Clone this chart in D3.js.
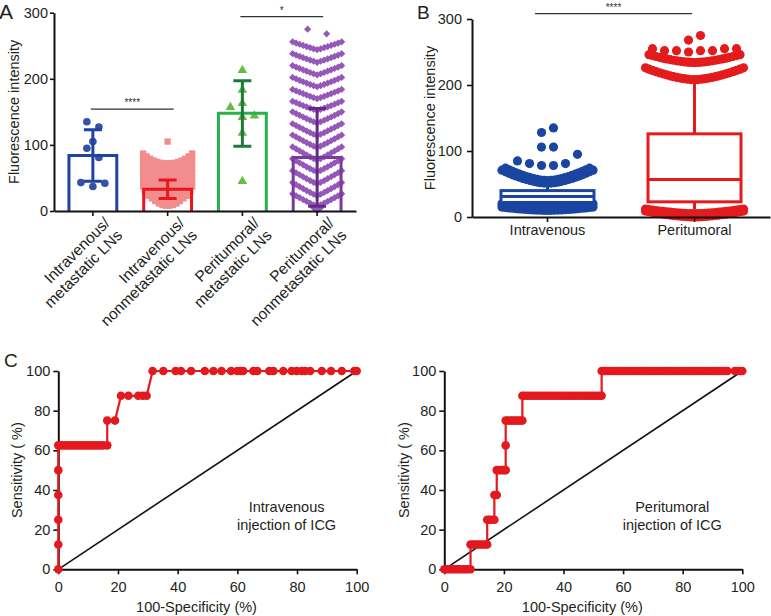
<!DOCTYPE html>
<html><head><meta charset="utf-8">
<script src="https://cdn.jsdelivr.net/npm/d3@7"></script>
<style>
body{margin:0;background:#fff}
svg{display:block}
text{font-family:"Liberation Sans",Arial,Helvetica,sans-serif}
</style>
</head><body>
<svg id="c" width="771" height="616"></svg>
<script>
// ---------------- DATA ----------------
// Panel A
const catsA = ["Intravenous/|metastatic LNs", "Intravenous/|nonmetastatic LNs", "Peritumoral/|metastatic LNs", "Peritumoral/|nonmetastatic LNs"];
const yTicksA = [0, 100, 200, 300];
const meansA = [84, 33, 148, 81];
const errLowA = [45, 19, 98, 7];
const errHighA = [123, 47, 197, 155];
const ivMetValues = [135, 127, 105, 95, 81, 43, 37, 42];
const periMetValues = [213, 183, 163, 157, 144, 142, 118, 45];
// dense swarms read as rows: [value at row centre, value at row edges, number of points]
const ivNonRows = [[72, 87, 15], [65, 79, 15], [58, 72, 15], [51, 65, 15], [44, 58, 15], [37, 51, 15], [30, 44, 15], [23, 37, 15], [17, 30, 14], [12, 23, 12], [8, 15, 8]];
const ivNonSingles = [105];
const periNonRows = [[244, 256, 15], [225, 238, 15], [206, 220, 15], [188, 202, 15], [170, 184, 15], [152, 166, 15], [133, 150, 15], [114, 132, 15], [96, 115, 15], [77, 97, 15], [59, 79, 15], [41, 61, 15], [23, 43, 15], [7, 26, 15], [1, 5, 3]];
const periNonSingles = [268, 275];
const sigA = [["****", 0, 1, 154], ["*", 2, 3, 294]];

// Panel B
const boxCats = ["Intravenous", "Peritumoral"];
const yTicksB = [0, 100, 200, 300];
const boxQ1 = [22, 23];
const boxMed = [31, 57];
const boxQ3 = [40, 126];
const boxWLo = [12, 12];
const boxWHi = [52, 207];
const ivOutRows = [[10, 15, 27], [16, 20, 27], [51, 71, 27], [55, 74, 25]];
const ivOutSingles = [78, 78, 81, 81, 85, 95, 106, 106, 128, 135];
const periOutRows = [[0, 9, 29], [5, 12, 29], [208, 226, 29], [234, 246, 27]];
const periOutSingles = [250, 252, 252, 252, 252, 255, 255, 255, 268, 275];

// Panel C (ROC)
const rocTicks = [0, 20, 40, 60, 80, 100];
const ivTprLevels = [0, 12.5, 25, 37.5, 50, 62.5, 75, 87.5, 100];
const ivFprAtLevel = [
  [0], [0], [0], [0], [0],
  [0, 1, 2, 3, 4, 5, 6, 7, 8, 9, 10, 11, 12, 13, 14, 15, 16.4],
  [16.4, 19],
  [21, 23.5, 26.8, 28.3, 29.6],
  [31.6, 35.2, 39.3, 41.1, 44.5, 49.1, 52, 54.7, 57.9, 60, 61.1, 62, 65.4, 66.7, 70.7, 72.1, 75.4, 78.2, 79.9, 81.6, 82.7, 84.4, 88.3, 91.4, 95, 99.2, 100]
];
const periTprLevels = [0, 12.5, 25, 37.5, 50, 62.5, 75, 87.5, 100];
const periFprAtLevel = [
  [0, 0.8, 1.6, 2.4, 3.2, 4, 4.8, 5.6, 6.4, 7.2, 8, 8.8],
  [8.8, 9.6, 10.4, 11.2, 12, 12.8, 13.6, 14.4],
  [14.4, 15.2, 16, 16.8],
  [16.8, 17.6],
  [17.6, 18.4, 19.2, 20, 20.6],
  [20.6],
  [20.6, 21.4, 22.2, 23, 23.8, 24.6, 25.4, 26.2],
  [26.2, 27, 28, 29, 30, 31, 32, 33, 34, 35, 36, 37, 38, 39, 40, 41, 42, 43, 44, 45, 46, 47, 48, 49, 50, 51, 52, 52.8],
  [52.8, 53.6, 54, 55, 56, 57, 58, 59, 60, 61, 62, 63, 64, 65, 66, 67, 68, 69, 70, 71, 72, 73, 74, 75, 76, 77, 78, 79, 80, 81, 82, 83, 84, 85, 86, 87, 88, 89, 90, 91, 92, 93, 94, 95, 97.5, 98.3, 99.2, 100]
];

// ---------------- HELPERS ----------------
const svg = d3.select("#c");
const FF = '"Liberation Sans", Arial, Helvetica, sans-serif';
const TXT = "#231f20";

function rowPoints(rows, spacing, exp) {
  const pts = [];
  rows.forEach(([c, e, n]) => {
    const half = (n - 1) / 2;
    for (let i = 0; i < n; i++) {
      const k = i - half;
      const t = half === 0 ? 0 : Math.abs(k) / half;
      pts.push({dx: k * spacing, v: c + (e - c) * Math.pow(t, exp)});
    }
  });
  return pts;
}
function groupPoints(values, binW, spacing, rightFirst) {
  const s = values.slice().sort((a, b) => a - b);
  const groups = [];
  s.forEach(v => {
    const g = groups[groups.length - 1];
    if (g && v - g[0] <= binW) g.push(v); else groups.push([v]);
  });
  const sign = rightFirst ? 1 : -1;
  const pts = [];
  groups.forEach(g => {
    const n = g.length;
    g.forEach((v, i) => {
      let off;
      if (n % 2 === 1) off = i === 0 ? 0 : Math.ceil(i / 2) * (i % 2 === 1 ? sign : -sign);
      else off = (Math.floor(i / 2) + 0.5) * (i % 2 === 0 ? sign : -sign);
      pts.push({dx: off * spacing, v});
    });
  });
  return pts;
}
function styleAxis(g, fs) {
  g.attr("font-family", FF).attr("font-size", fs);
  g.select(".domain").attr("stroke", "#111").attr("stroke-width", 2);
  g.selectAll(".tick line").attr("stroke", "#111").attr("stroke-width", 1.6);
  g.selectAll(".tick text").attr("fill", TXT);
}

// ---------------- PANEL A ----------------
const yA = d3.scaleLinear().domain([0, 300]).range([211, 12.7]);
const xA = d3.scaleBand().domain(catsA).range([54, 356]).paddingInner(0.32).paddingOuter(0.18);
const bwA = xA.bandwidth();
const cxA = c => xA(c) + bwA / 2;
const barStroke = ["#1f43a0", "#e8161d", "#2bb14b", "#7b3a9c"];
const errStroke = ["#1f43a0", "#e8161d", "#1d7a3b", "#64288c"];
const gA = svg.append("g");

gA.append("text").attr("x", -1).attr("y", 19).attr("font-size", 21).attr("fill", TXT).text("A");
gA.append("text").attr("transform", "translate(19," + ((yA(0) + yA(300)) / 2) + ") rotate(-90)")
  .attr("text-anchor", "middle").attr("font-size", 14.5).attr("fill", TXT).text("Fluorescence intensity");

gA.selectAll("rect.fill").data(catsA).join("rect").attr("class", "fill")
  .attr("x", c => xA(c)).attr("width", bwA)
  .attr("y", (c, i) => yA(meansA[i])).attr("height", (c, i) => yA(0) - yA(meansA[i]))
  .attr("fill", "#fff");

const symPath = (type, size) => d3.symbol().type(type).size(size)();
function drawPts(pts, cat, path, fill, rot) {
  gA.append("g").selectAll("path").data(pts).join("path")
    .attr("d", path)
    .attr("transform", d => "translate(" + (cxA(cat) + d.dx) + "," + yA(d.v) + ")" + (rot ? " rotate(" + rot + ")" : ""))
    .attr("fill", fill);
}
drawPts(rowPoints(ivNonRows, 3.5, 2.2), catsA[1], symPath(d3.symbolSquare, 40), "#f28d8e");
drawPts(groupPoints(ivNonSingles, 15, 12, true), catsA[1], symPath(d3.symbolSquare, 40), "#f28d8e");
drawPts(rowPoints(periNonRows, 3.5, 1.1), catsA[3], symPath(d3.symbolSquare, 26), "#9658b8", 45);
drawPts(groupPoints(periNonSingles, 10, 19, true), catsA[3], symPath(d3.symbolSquare, 26), "#9658b8", 45);
drawPts(groupPoints(ivMetValues, 15, 12, true), catsA[0], symPath(d3.symbolCircle, 46), "#3452a6");
drawPts(groupPoints(periMetValues, 15, 12, true), catsA[2], symPath(d3.symbolTriangle, 40), "#68bb45");

gA.selectAll("path.bar").data(catsA).join("path").attr("class", "bar")
  .attr("d", (c, i) => {
    const x0 = xA(c) + 1.5, x1 = xA(c) + bwA - 1.5, y0 = yA(0), y1 = yA(meansA[i]);
    return "M" + x0 + "," + y0 + "V" + y1 + "H" + x1 + "V" + y0;
  })
  .attr("fill", "none").attr("stroke", (c, i) => barStroke[i]).attr("stroke-width", 3);

catsA.forEach((c, i) => {
  const x = cxA(c), lo = yA(errLowA[i]), hi = yA(errHighA[i]);
  gA.append("path").attr("d", "M" + x + "," + lo + "V" + hi + "M" + (x - 9) + "," + hi + "H" + (x + 9) + "M" + (x - 9) + "," + lo + "H" + (x + 9))
    .attr("fill", "none").attr("stroke", errStroke[i]).attr("stroke-width", 3);
});

const axYA = gA.append("g").attr("transform", "translate(54,0)")
  .call(d3.axisLeft(yA).tickValues(yTicksA).tickSize(4).tickSizeOuter(0).tickPadding(2));
styleAxis(axYA, 14.5);
const axXA = gA.append("g").attr("transform", "translate(0," + yA(0) + ")")
  .call(d3.axisBottom(xA).tickSize(5).tickSizeOuter(0).tickFormat(""));
styleAxis(axXA, 14.5);

catsA.forEach(c => {
  const lines = c.split("|");
  const t = gA.append("text").attr("transform", "translate(" + (cxA(c) + 18) + ",224) rotate(-45)")
    .attr("text-anchor", "end").attr("font-size", 15.5).attr("fill", TXT);
  lines.forEach((l, k) => t.append("tspan").attr("x", 0).attr("dy", k === 0 ? 0 : "1.12em").text(l));
});

sigA.forEach(([lab, a, b, v]) => {
  const x0 = cxA(catsA[a]) - 2, x1 = cxA(catsA[b]) + 6, y = yA(v);
  gA.append("line").attr("x1", x0).attr("x2", x1).attr("y1", y).attr("y2", y).attr("stroke", "#333").attr("stroke-width", 1.3);
  gA.append("text").attr("x", (x0 + x1) / 2).attr("y", y - 3).attr("text-anchor", "middle").attr("font-size", 10).attr("fill", "#333").text(lab);
});

// ---------------- PANEL B ----------------
const yB = d3.scaleLinear().domain([0, 300]).range([217, 19]);
const xB = d3.scaleBand().domain(boxCats).range([472, 770]).paddingInner(0.347).paddingOuter(0.187);
const bwB = xB.bandwidth();
const cxB = c => xB(c) + bwB / 2;
const colB = ["#1a45a0", "#e41b1c"];
const gB = svg.append("g");
gB.append("text").attr("x", 417).attr("y", 18.5).attr("font-size", 19).attr("fill", TXT).text("B");
gB.append("text").attr("transform", "translate(435," + ((yB(0) + yB(300)) / 2) + ") rotate(-90)")
  .attr("text-anchor", "middle").attr("font-size", 14.5).attr("fill", TXT).text("Fluorescence intensity");

function drawB(pts, cat, col) {
  gB.append("g").selectAll("circle").data(pts).join("circle")
    .attr("cx", d => cxB(cat) + d.dx).attr("cy", d => yB(d.v)).attr("r", 4.6).attr("fill", col);
}
boxCats.forEach((c, i) => {
  const x = cxB(c);
  gB.append("path").attr("d", "M" + x + "," + yB(boxQ3[i]) + "V" + yB(boxWHi[i]) + "M" + x + "," + yB(boxQ1[i]) + "V" + yB(boxWLo[i]))
    .attr("stroke", colB[i]).attr("stroke-width", 3);
});
drawB(rowPoints(ivOutRows, 3.5, 1.6), boxCats[0], colB[0]);
drawB(groupPoints(ivOutSingles, 18, 12, false), boxCats[0], colB[0]);
drawB(rowPoints(periOutRows, 3.5, 1.6), boxCats[1], colB[1]);
drawB(groupPoints(periOutSingles, 10, 12, false), boxCats[1], colB[1]);
boxCats.forEach((c, i) => {
  gB.append("rect").attr("x", xB(c) + 1.5).attr("width", bwB - 3)
    .attr("y", yB(boxQ3[i])).attr("height", yB(boxQ1[i]) - yB(boxQ3[i]))
    .attr("fill", "#fff").attr("stroke", colB[i]).attr("stroke-width", 3);
  gB.append("line").attr("x1", xB(c) + 1.5).attr("x2", xB(c) + bwB - 1.5)
    .attr("y1", yB(boxMed[i])).attr("y2", yB(boxMed[i])).attr("stroke", colB[i]).attr("stroke-width", 3);
});
const axYB = gB.append("g").attr("transform", "translate(472,0)")
  .call(d3.axisLeft(yB).tickValues(yTicksB).tickSize(5).tickSizeOuter(0).tickPadding(5));
styleAxis(axYB, 14.5);
const axXB = gB.append("g").attr("transform", "translate(0," + yB(0) + ")")
  .call(d3.axisBottom(xB).tickSize(5).tickSizeOuter(0).tickPadding(3));
styleAxis(axXB, 14.5);
{
  const x0 = 535, x1 = 692, y = yB(308);
  gB.append("line").attr("x1", x0).attr("x2", x1).attr("y1", y).attr("y2", y).attr("stroke", "#333").attr("stroke-width", 1.3);
  gB.append("text").attr("x", (x0 + x1) / 2).attr("y", y - 3).attr("text-anchor", "middle").attr("font-size", 10).attr("fill", "#333").text("****");
}

// ---------------- PANEL C ----------------
const yC = d3.scaleLinear().domain([0, 100]).range([569.3, 371]);
function rocPanel(x0, x1, levels, fprs, title, labX) {
  const xC = d3.scaleLinear().domain([0, 100]).range([x0, x1]);
  const g = svg.append("g");
  const pts = [];
  levels.forEach((lv, i) => fprs[i].forEach(f => pts.push([f, lv])));
  g.append("line").attr("x1", xC(0)).attr("y1", yC(0)).attr("x2", xC(100)).attr("y2", yC(100))
    .attr("stroke", "#111").attr("stroke-width", 1.6);
  const ax = g.append("g").attr("transform", "translate(" + x0 + ",0)")
    .call(d3.axisLeft(yC).tickValues(rocTicks).tickSize(5).tickSizeOuter(0).tickPadding(3));
  styleAxis(ax, 14.5);
  const bx = g.append("g").attr("transform", "translate(0," + yC(0) + ")")
    .call(d3.axisBottom(xC).tickValues(rocTicks).tickSize(5).tickSizeOuter(0).tickPadding(7));
  styleAxis(bx, 14.5);
  g.append("path").datum(pts).attr("d", d3.line().x(d => xC(d[0])).y(d => yC(d[1])))
    .attr("fill", "none").attr("stroke", "#e3191e").attr("stroke-width", 2.2);
  g.append("g").selectAll("circle").data(pts).join("circle")
    .attr("cx", d => xC(d[0])).attr("cy", d => yC(d[1])).attr("r", 4.3).attr("fill", "#e3191e");
  g.append("text").attr("x", (x0 + x1) / 2 - 11).attr("y", 611.5).attr("text-anchor", "middle")
    .attr("font-size", 14.5).attr("fill", TXT).text("100-Specificity (%)");
  g.append("text").attr("transform", "translate(" + labX + "," + ((yC(0) + yC(100)) / 2) + ") rotate(-90)")
    .attr("text-anchor", "middle").attr("font-size", 14.5).attr("fill", TXT).text("Sensitivity ( %)");
  const tx = xC(76.5);
  g.append("text").attr("x", tx).attr("y", 512).attr("text-anchor", "middle").attr("font-size", 14.5).attr("fill", TXT).text(title);
  g.append("text").attr("x", tx).attr("y", 529.5).attr("text-anchor", "middle").attr("font-size", 14.5).attr("fill", TXT).text("injection of ICG");
}
rocPanel(58.3, 356.7, ivTprLevels, ivFprAtLevel, "Intravenous", 22);
rocPanel(444.3, 742.3, periTprLevels, periFprAtLevel, "Peritumoral", 409);
svg.append("text").attr("x", 4).attr("y", 367).attr("font-size", 19).attr("fill", TXT).attr("font-family", FF).text("C");
</script>
</body></html>
